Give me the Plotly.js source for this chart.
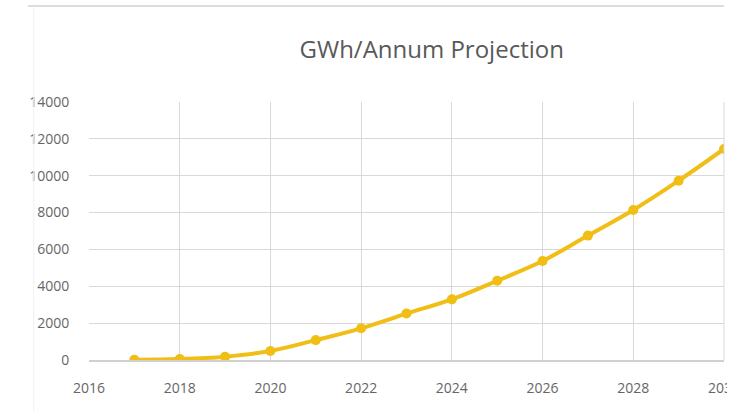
<!DOCTYPE html>
<html>
<head>
<meta charset="utf-8">
<script src="https://cdn.plot.ly/plotly-3.0.1.min.js"></script>
<style>html,body{margin:0;padding:0;background:#fff;}#chart{width:738px;height:414px;}</style>
</head>
<body>
<div id="chart"></div>
<script>
const years = [2017, 2018, 2019, 2020, 2021, 2022, 2023, 2024, 2025, 2026, 2027, 2028, 2029, 2030];
const gwh = [10, 50, 180, 490, 1080, 1720, 2520, 3290, 4300, 5370, 6750, 8140, 9730, 11450];
const titleText = 'GWh/Annum Projection';

const trace = {
  x: years, y: gwh, type: 'scatter', mode: 'lines+markers',
  line: {color: '#F0BE14', width: 4, shape: 'spline', smoothing: 1},
  marker: {color: '#F0BE14', size: 10, symbol: 'circle'},
  hoverinfo: 'x+y'
};

const tickFont = {family: 'Open Sans', size: 14, color: '#666666'};

const layout = {
  width: 738, height: 414,
  margin: {l: 89, r: 14, t: 102, b: 54},
  paper_bgcolor: '#fff', plot_bgcolor: '#fff',
  showlegend: false,
  title: {text: titleText, x: 0.585, xanchor: 'center', y: 0.88, yanchor: 'middle',
          font: {family: 'Open Sans', size: 24, color: '#595959'}},
  xaxis: {range: [2016, 2030], dtick: 2, tick0: 2016, showgrid: true, gridcolor: '#d9d9d9', gridwidth: 1,
          zeroline: false, showline: true, linecolor: '#d0d0d0', linewidth: 1.5,
          ticks: 'outside', ticklen: 15, tickcolor: 'rgba(0,0,0,0)', ticklabeloverflow: 'allow',
          tickformat: 'd', tickfont: tickFont},
  yaxis: {range: [0, 14000], dtick: 2000, showgrid: true, gridcolor: '#d9d9d9', gridwidth: 1,
          zeroline: false, showline: false, tickformat: 'd',
          ticks: 'outside', ticklen: 16, tickcolor: 'rgba(0,0,0,0)',
          tickfont: tickFont},
  shapes: [
    {type: 'line', xref: 'paper', yref: 'paper', x0: -0.096, x1: 1.0, y0: 1.372, y1: 1.372,
     line: {color: '#dcdcdc', width: 2}},
    {type: 'line', xref: 'paper', yref: 'paper', x0: -0.0871, x1: -0.0871, y0: 1.372, y1: -0.2,
     line: {color: '#f0f0f0', width: 1}},
    {type: 'line', xref: 'paper', yref: 'paper', x0: 1, x1: 1, y0: 0, y1: 1,
     line: {color: '#d9d9d9', width: 1}},
    {type: 'rect', xref: 'paper', yref: 'paper', x0: 1.0048, x1: 1.05, y0: -0.3, y1: 1.5,
     fillcolor: '#ffffff', line: {width: 0}, layer: 'above'}
  ]
};

Plotly.newPlot('chart', [trace], layout, {displayModeBar: false, staticPlot: true});
</script>
</body>
</html>
